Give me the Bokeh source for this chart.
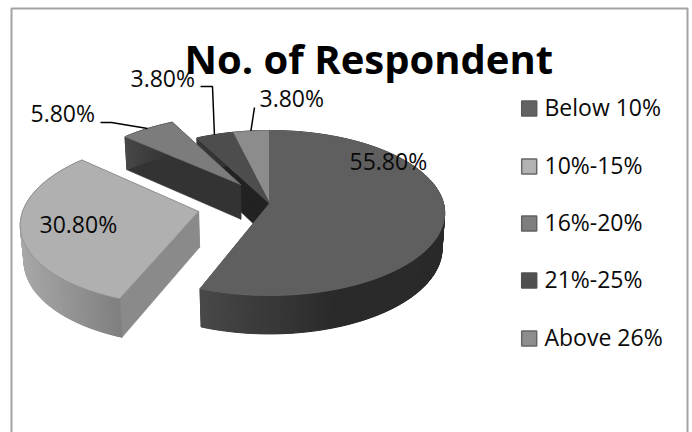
import numpy as np
from bokeh.plotting import figure
from bokeh.models import Range1d
from bokeh.core.properties import value
from bokeh.embed import file_html
from bokeh.resources import INLINE

# Survey shares, clockwise from twelve o'clock
categories = ["Below 10%", "10%-15%", "16%-20%", "21%-25%", "Above 26%"]
shares = [55.8, 30.8, 5.8, 3.8, 3.8]
share_labels = ["55.80%", "30.80%", "5.80%", "3.80%", "3.80%"]
chart_title = "No. of Respondent"

# Slice pull-out as (sideways, depthwise) in units of the pie radius
pull = [(0.0, 0.0), (-0.403, -0.097), (-0.171, 0.24), (0.0, 0.0), (0.0, 0.0)]

# Slice colours
top_colors = ["#5f5f5f", "#b0b0b0", "#7c7c7c", "#4d4d4d", "#8c8c8c"]
top_edges = ["#666666", "#8f8f8f", "#6e6e6e", "#555555", "#808080"]
cut_colors = ["#2f2f2f", "#8a8a8a", "#333333", "#222222", "#3a3a3a"]
rim_left = [0x48, 0xa8, 0x48, 0x38, 0x38]
rim_right = [0x2a, 0x7f, 0x30, 0x30, 0x30]
swatch_edges = ["#5a5a5a", "#666666", "#606060", "#505050", "#666666"]
swatch_fills = ["#626262", "#b2b2b2", "#7e7e7e", "#505050", "#8e8e8e"]

# Projection of the tilted pie onto page pixels
CX, CY = 269.0, 203.0
RX, RY = 174.0, 81.4
PERSPECTIVE = 0.115
DEPTH = 36.0
BOTTOM_SHRINK = 0.015

# Bokeh places alphabetic text this fraction of the font size below the anchor
BASELINE_SHIFT = 0.4


def project(u, v, down=False):
    w = 1 + PERSPECTIVE * v + (BOTTOM_SHRINK if down else 0.0)
    return CX + RX * u / w, CY + (-RY * v + (DEPTH if down else 0.0)) / w


def rim(angle, offset):
    a = np.radians(angle)
    return np.sin(a) + offset[0], np.cos(a) + offset[1]


def gray(level):
    level = int(round(level))
    return f"#{level:02x}{level:02x}{level:02x}"


starts = np.cumsum([0.0] + shares[:-1]) * 3.6
ends = np.cumsum(shares) * 3.6

p = figure(width=692, height=432, output_backend="svg", toolbar_location=None,
           x_range=Range1d(0, 692), y_range=Range1d(432, 0),
           x_axis_type=None, y_axis_type=None, min_border=0, outline_line_color=None)
p.grid.visible = False

# Chart frame; its lower edge runs past the bottom of the page
p.line([11, 11, 687, 687], [440, 8, 8, 440], line_color="#a3a3a3", line_width=2)


def draw_slice(i):
    off = pull[i]
    angles = np.linspace(starts[i], ends[i], max(8, int((ends[i] - starts[i]) * 0.8)))
    apex = off
    # Cut faces running from the hub out to the rim
    for ang in (starts[i], ends[i]):
        u, v = rim(ang, off)
        a_top = project(*apex)
        r_top = project(u, v)
        r_low = project(u, v, True)
        a_low = project(*apex, True)
        p.patch([a_top[0], r_top[0], r_low[0], a_low[0]],
                [a_top[1], r_top[1], r_low[1], a_low[1]],
                fill_color=cut_colors[i], line_color=cut_colors[i], line_width=0.6)
    # Curved outer wall: a flat underlay, then shaded strips with overlapping edges
    tops = [project(*rim(a, off)) for a in angles]
    lows = [project(*rim(a, off), True) for a in angles]
    outline = tops + lows[::-1]
    all_x = [t[0] for t in tops]
    lo, hi = min(all_x), max(all_x)
    span = max(hi - lo, 1.0)
    p.patch([q[0] for q in outline], [q[1] for q in outline],
            fill_color=gray((rim_left[i] + rim_right[i]) / 2), line_color=None)
    xs, ys, cols = [], [], []
    for k in range(len(angles) - 1):
        xs.append([tops[k][0], tops[k + 1][0], lows[k + 1][0], lows[k][0]])
        ys.append([tops[k][1], tops[k + 1][1], lows[k + 1][1], lows[k][1]])
        mid = (tops[k][0] + tops[k + 1][0]) / 2
        t = min(1.0, (mid - lo) / (span * (0.55 if i == 0 else 1.0)))
        cols.append(gray(rim_left[i] + (rim_right[i] - rim_left[i]) * t))
    p.patches(xs, ys, fill_color=cols, line_color=cols, line_width=1.0)
    # Top face
    face = [project(*apex)] + tops
    p.patch([f[0] for f in face], [f[1] for f in face],
            fill_color=top_colors[i], line_color=top_edges[i], line_width=0.8)


# Back slices first so nearer ones paint over them
for idx in (4, 3, 2, 1, 0):
    draw_slice(idx)

# Leader lines from the labels to the slice rims
leaders = {2: [(100, 122), (111, 122)], 3: [(200, 86), (212, 86)], 4: [(254, 107)]}
for i, knots in leaders.items():
    end = project(*rim((starts[i] + ends[i]) / 2, pull[i]))
    pts = knots + [end]
    p.line([q[0] for q in pts], [q[1] for q in pts], line_color="#000000", line_width=1.5)

font = value("Open Sans")


def baseline(y, size):
    return y - BASELINE_SHIFT * size


# Value labels
label_x = [349, 39, 30, 130, 259]
label_y = [170, 233, 122, 87, 107]
p.text(label_x, [baseline(y, 23) for y in label_y], text=share_labels, text_font=font,
       text_font_size="23px", text_color="#0a0a0a", text_align="left",
       text_baseline="alphabetic")

# Title
p.text([184], [baseline(74, 40)], text=[chart_title], text_font=font, text_font_size="40px",
       text_font_style="bold", text_color="#000000", text_align="left",
       text_baseline="alphabetic")

# Legend column
legend_y = [108, 166, 223, 280, 338]
p.rect([528.7] * 5, legend_y, width=15, height=15, fill_color=swatch_fills,
       line_color=swatch_edges, line_width=1.5)
p.text([544] * 5, [baseline(y + 8, 23) for y in legend_y], text=categories, text_font=font,
       text_font_size="23px", text_color="#0a0a0a", text_align="left",
       text_baseline="alphabetic")

open("out.html", "w").write(file_html(p, INLINE))
